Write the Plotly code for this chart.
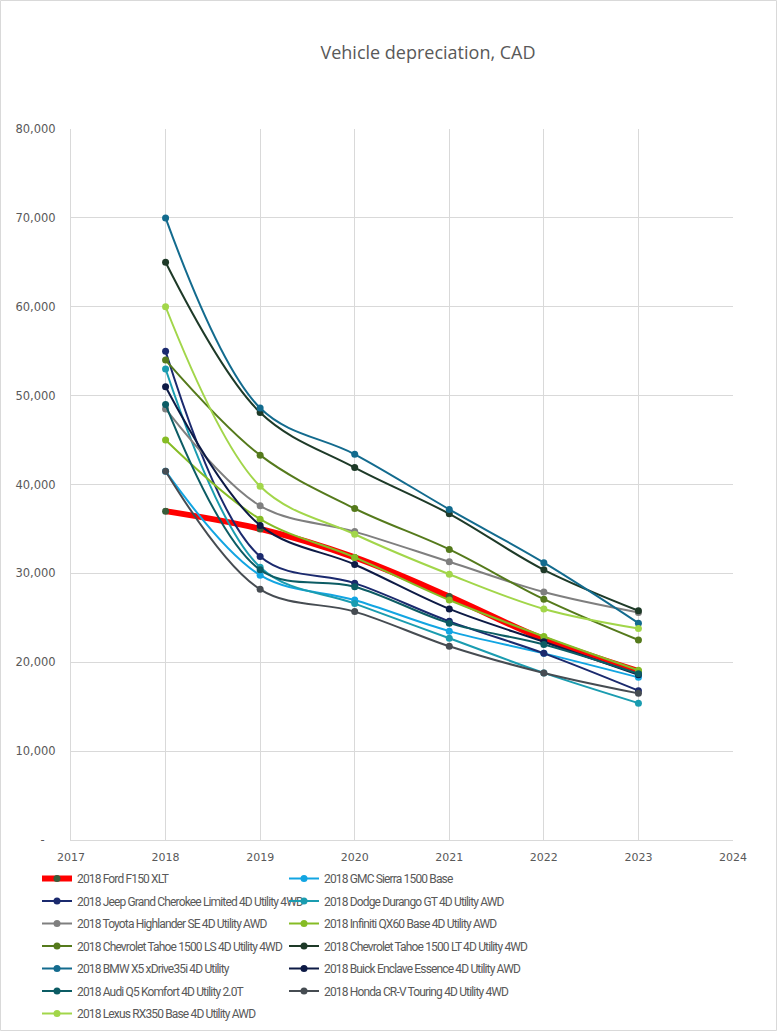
import plotly.graph_objects as go

years = [2018, 2019, 2020, 2021, 2022, 2023]

names = [
    "2018 Ford F150 XLT",
    "2018 GMC Sierra 1500 Base",
    "2018 Jeep Grand Cherokee Limited 4D Utility 4WD",
    "2018 Dodge Durango GT 4D Utility AWD",
    "2018 Toyota Highlander SE 4D Utility AWD",
    "2018 Infiniti QX60 Base 4D Utility AWD",
    "2018 Chevrolet Tahoe 1500 LS 4D Utility 4WD",
    "2018 Chevrolet Tahoe 1500 LT 4D Utility 4WD",
    "2018 BMW X5 xDrive35i 4D Utility",
    "2018 Buick Enclave Essence 4D Utility AWD",
    "2018 Audi Q5 Komfort 4D Utility 2.0T",
    "2018 Honda CR-V Touring 4D Utility 4WD",
    "2018 Lexus RX350 Base 4D Utility AWD",
]

ford_f150 = [37000, 35000, 31800, 27400, 22600, 19000]
gmc_sierra = [41500, 29800, 27000, 23500, 21000, 18300]
jeep_grand_cherokee = [55000, 31900, 28900, 24600, 21000, 16800]
dodge_durango = [53000, 30700, 26600, 22700, 18800, 15400]
toyota_highlander = [48500, 37600, 34700, 31300, 27900, 25600]
infiniti_qx60 = [45000, 36100, 31800, 27000, 22900, 19100]
tahoe_ls = [54000, 43300, 37300, 32700, 27100, 22500]
tahoe_lt = [65000, 48100, 41900, 36700, 30400, 25800]
bmw_x5 = [70000, 48600, 43400, 37200, 31200, 24400]
buick_enclave = [51000, 35400, 31000, 26000, 22300, 18600]
audi_q5 = [49000, 30400, 28500, 24400, 22000, 18700]
honda_crv = [41500, 28200, 25700, 21800, 18800, 16500]
lexus_rx350 = [60000, 39800, 34400, 29900, 26000, 23800]

series = [ford_f150, gmc_sierra, jeep_grand_cherokee, dodge_durango,
          toyota_highlander, infiniti_qx60, tahoe_ls, tahoe_lt, bmw_x5,
          buick_enclave, audi_q5, honda_crv, lexus_rx350]

line_colors = ["#FF0000", "#12A5E2", "#1B2A6E", "#1A9CB0", "#7F7F7F",
               "#86BC25", "#557A1C", "#1E3A28", "#136B8E", "#0D1A45",
               "#0C5C64", "#464C52", "#A2D64A"]
marker_colors = ["#385D3A", "#12A5E2", "#1B2A6E", "#1A9CB0", "#7F7F7F",
                 "#86BC25", "#557A1C", "#1E3A28", "#136B8E", "#0D1A45",
                 "#0C5C64", "#464C52", "#A2D64A"]
widths = [6] + [2] * 12

y_tickvals = [0, 10000, 20000, 30000, 40000, 50000, 60000, 70000, 80000]
y_ticktext = ["-\u00a0\u00a0\u00a0", "10,000", "20,000", "30,000", "40,000",
              "50,000", "60,000", "70,000", "80,000"]
x_tickvals = [2017, 2018, 2019, 2020, 2021, 2022, 2023, 2024]

W, H = 777, 1031
L, R, T, B = 71, 44, 129, 191
pw, ph = W - L - R, H - T - B

legend_ids = ["legend" if i == 0 else "legend%d" % (i + 1) for i in range(len(names))]

fig = go.Figure()
for i, (name, vals, lc, mc, w) in enumerate(zip(names, series, line_colors, marker_colors, widths)):
    fig.add_trace(go.Scatter(
        x=years, y=vals, mode="lines+markers",
        name='<span style="letter-spacing:-0.85px">%s</span>' % name,
        line=dict(color=lc, width=w, shape="spline", smoothing=1.0),
        marker=dict(color=mc, size=7),
        legend=legend_ids[i],
    ))

legend_font = dict(family="Roboto, sans-serif", size=12, color="#595959")
col_text_x = [77, 324]
legends = {}
for i, lid in enumerate(legend_ids):
    r, c = divmod(i, 2)
    row_center = 878 + 22.5 * r
    top = row_center - 14
    legends[lid] = dict(orientation="h", x=(col_text_x[c] - 40 - L) / pw, xanchor="left",
                        y=-(top - (H - B)) / ph, yanchor="top", itemwidth=30,
                        bgcolor="rgba(0,0,0,0)", font=legend_font)

fig.update_layout(
    width=W, height=H,
    margin=dict(l=L, r=R, t=T, b=B, autoexpand=False),
    paper_bgcolor="white", plot_bgcolor="white",
    title=dict(text="Vehicle depreciation, CAD", x=428 / W, xanchor="center",
               y=1 - 53 / H, yanchor="middle",
               font=dict(family="Open Sans, Noto Sans, sans-serif", size=18, color="#595959")),
    xaxis=dict(range=[2017, 2024], tickvals=x_tickvals, showgrid=True,
               gridcolor="#D9D9D9", gridwidth=1, zeroline=False,
               showline=True, linecolor="#D9D9D9", linewidth=1,
               ticks="", ticklabelstandoff=7,
               tickfont=dict(family="DejaVu Sans", size=11, color="#595959")),
    yaxis=dict(range=[0, 80000], tickvals=y_tickvals, ticktext=y_ticktext,
               showgrid=True, gridcolor="#D9D9D9", gridwidth=1, zeroline=False,
               showline=True, linecolor="#D9D9D9", linewidth=1,
               ticks="", ticklabelstandoff=12,
               tickfont=dict(family="DejaVu Sans", size=11.5, color="#595959")),
    showlegend=True,
    **legends,
)

fig.add_shape(type="rect", xref="paper", yref="paper",
              x0=-L / pw + 0.5 / pw, x1=1 + (R - 0.5) / pw,
              y0=-B / ph + 0.5 / ph, y1=1 + (T - 0.5) / ph,
              line=dict(color="#D9D9D9", width=1), layer="below")

fig.write_html("out.html", config={"displayModeBar": False},
               post_script="document.body.style.margin='0';")
